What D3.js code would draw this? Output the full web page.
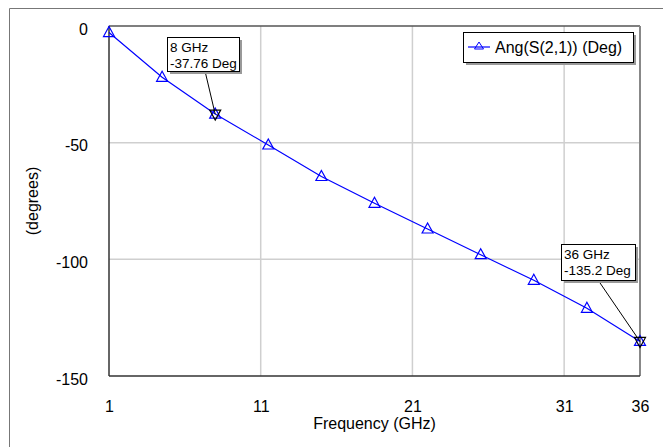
<!DOCTYPE html>
<html>
<head>
<meta charset="utf-8">
<script src="https://cdn.jsdelivr.net/npm/d3@7"></script>
<style>
  body { margin: 0; background: #fff; }
  svg { display: block; font-family: "Liberation Sans", Arial, sans-serif; }
</style>
</head>
<body>
<div id="chart"></div>
<script>
const width = 663;
const height = 447;
const margin = { top: 26, right: 23, bottom: 71, left: 109 };

// data
const freqs = [1, 4.5, 8, 11.5, 15, 18.5, 22, 25.5, 29, 32.5, 36];
const angles = [-2.8, -22, -37.76, -51, -64.5, -76, -87, -98, -109, -121, -135.2];
const xTicks = [1, 11, 21, 31, 36];
const yTicks = [0, -50, -100, -150];
const seriesName = "Ang(S(2,1)) (Deg)";
const markerFreqs = [8, 36];
const markerLabels = [["8 GHz", "-37.76 Deg"], ["36 GHz", "-135.2 Deg"]];

const x = d3.scaleLinear()
    .domain([1, 36])
    .range([margin.left, width - margin.right]);

const y = d3.scaleLinear()
    .domain([-150, 0])
    .range([height - margin.bottom, margin.top]);

const svg = d3.select("#chart")
    .append("svg")
    .attr("width", width)
    .attr("height", height);

// outer frame (runs off the right and bottom edges)
svg.append("path")
    .attr("d", `M9.5,${height + 5}V8.5H${width + 5}`)
    .attr("fill", "none")
    .attr("stroke", "#777")
    .attr("stroke-width", 1);

// grid
svg.selectAll(".xGrid")
    .data(xTicks.slice(1, -1))
    .enter()
    .append("line")
    .attr("x1", d => x(d))
    .attr("x2", d => x(d))
    .attr("y1", y(-150))
    .attr("y2", y(0))
    .attr("stroke", "#cfcfcf")
    .attr("stroke-width", 1.5);

svg.selectAll(".yGrid")
    .data(yTicks.slice(1, -1))
    .enter()
    .append("line")
    .attr("x1", x(1))
    .attr("x2", x(36))
    .attr("y1", d => y(d))
    .attr("y2", d => y(d))
    .attr("stroke", "#cfcfcf")
    .attr("stroke-width", 1.5);

// plot border
svg.append("line")
    .attr("x1", x(1)).attr("x2", x(36))
    .attr("y1", y(0)).attr("y2", y(0))
    .attr("stroke", "#555").attr("stroke-width", 1.5);
svg.append("line")
    .attr("x1", x(36)).attr("x2", x(36))
    .attr("y1", y(0)).attr("y2", y(-150))
    .attr("stroke", "#888").attr("stroke-width", 2);
svg.append("line")
    .attr("x1", x(1)).attr("x2", x(1))
    .attr("y1", y(0)).attr("y2", y(-150))
    .attr("stroke", "#333").attr("stroke-width", 1.5);
svg.append("line")
    .attr("x1", x(1)).attr("x2", x(36))
    .attr("y1", y(-150)).attr("y2", y(-150))
    .attr("stroke", "#333").attr("stroke-width", 1.5);

// axes (tick labels only, plain hyphen minus)
const xAxis = svg.append("g")
    .attr("transform", `translate(0,${y(-150)})`)
    .call(d3.axisBottom(x).tickValues(xTicks).tickSize(0).tickPadding(25).tickFormat(d => String(d)));
const yAxis = svg.append("g")
    .attr("transform", `translate(${x(1)},0)`)
    .call(d3.axisLeft(y).tickValues(yTicks).tickSize(0).tickPadding(21).tickFormat(d => String(d)));
[xAxis, yAxis].forEach(a => {
    a.select(".domain").remove();
    a.selectAll("text")
        .style("font-family", "Liberation Sans, Arial, sans-serif")
        .style("font-size", "16px")
        .style("fill", "#000");
});
yAxis.selectAll("text").attr("dy", "0.52em");

svg.append("text")
    .attr("x", (x(1) + x(36)) / 2)
    .attr("y", 429)
    .style("text-anchor", "middle")
    .style("font-size", "16px")
    .text("Frequency (GHz)");

svg.append("text")
    .attr("transform", `translate(38,${(y(0) + y(-150)) / 2}) rotate(-90)`)
    .style("text-anchor", "middle")
    .style("font-size", "16px")
    .text("(degrees)");

// series
const points = freqs.map((f, i) => ({ f, a: angles[i] }));
const line = d3.line().x(d => x(d.f)).y(d => y(d.a));

svg.append("path")
    .datum(points)
    .attr("fill", "none")
    .attr("stroke", "#0000ff")
    .attr("stroke-width", 1.2)
    .attr("d", line);

const tri = (cx, cy, up) => up
    ? `M${cx},${cy - 6}L${cx + 5.5},${cy + 4}L${cx - 5.5},${cy + 4}Z`
    : `M${cx},${cy + 6}L${cx + 5.5},${cy - 4}L${cx - 5.5},${cy - 4}Z`;

svg.selectAll(".mark")
    .data(points)
    .enter()
    .append("path")
    .attr("d", d => tri(x(d.f), y(d.a), true))
    .attr("fill", "none")
    .attr("stroke", "#0000ff")
    .attr("stroke-width", 1.2);

// marker callouts
const callouts = [
    { bx: 167, by: 37, w: 72, h: 34, lx: 205 },
    { bx: 561, by: 244, w: 74, h: 36, lx: 598 }
];
markerFreqs.forEach((f, i) => {
    const a = angles[freqs.indexOf(f)];
    const c = callouts[i];
    svg.append("line")
        .attr("x1", c.lx).attr("y1", c.by + c.h)
        .attr("x2", x(f)).attr("y2", y(a))
        .attr("stroke", "#000").attr("stroke-width", 1);
    svg.append("path")
        .attr("d", tri(x(f), y(a), false))
        .attr("fill", "none")
        .attr("stroke", "#000")
        .attr("stroke-width", 1.2);
    svg.append("rect")
        .attr("x", c.bx + 3).attr("y", c.by + 3)
        .attr("width", c.w).attr("height", c.h)
        .attr("fill", "#999");
    svg.append("rect")
        .attr("x", c.bx + 0.5).attr("y", c.by + 0.5)
        .attr("width", c.w).attr("height", c.h)
        .attr("fill", "#fff")
        .attr("stroke", "#000");
    svg.append("text")
        .attr("x", c.bx + 3)
        .attr("y", c.by + 15)
        .style("font-size", "13.5px")
        .selectAll("tspan")
        .data(markerLabels[i])
        .enter()
        .append("tspan")
        .attr("x", c.bx + 3)
        .attr("dy", (d, j) => j ? 16 : 0)
        .text(d => d);
});

// legend
const lg = { x: 463, y: 32, w: 170, h: 30 };
svg.append("rect")
    .attr("x", lg.x + 3).attr("y", lg.y + 3)
    .attr("width", lg.w).attr("height", lg.h)
    .attr("fill", "#999");
svg.append("rect")
    .attr("x", lg.x + 0.5).attr("y", lg.y + 0.5)
    .attr("width", lg.w).attr("height", lg.h)
    .attr("fill", "#fff")
    .attr("stroke", "#000");
svg.append("line")
    .attr("x1", lg.x + 5).attr("x2", lg.x + 27)
    .attr("y1", lg.y + 15).attr("y2", lg.y + 15)
    .attr("stroke", "#0000ff").attr("stroke-width", 1.2);
svg.append("path")
    .attr("d", `M${lg.x + 16},${lg.y + 10}L${lg.x + 20.5},${lg.y + 17}L${lg.x + 11.5},${lg.y + 17}Z`)
    .attr("fill", "none")
    .attr("stroke", "#0000ff")
    .attr("stroke-width", 1);
svg.append("text")
    .attr("x", lg.x + 32)
    .attr("y", lg.y + 21)
    .style("font-size", "16px")
    .text(seriesName);
</script>
</body>
</html>
